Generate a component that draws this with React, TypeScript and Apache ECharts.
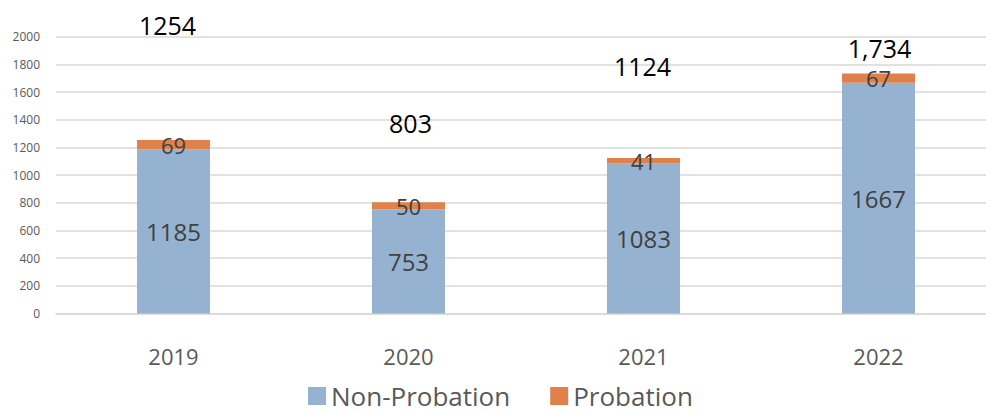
import React, { useEffect, useRef } from "react";
import * as echarts from "echarts";

const years = ["2019", "2020", "2021", "2022"];
const nonProbation = [1185, 753, 1083, 1667];
const probation = [69, 50, 41, 67];
const totalLabels = ["1254", "803", "1124", "1,734"];
const yTicks = { min: 0, max: 2000, interval: 200 };
// label nudges (dx, dy) for the hand-placed total boxes
const totalOffsets: [number, number][] = [
  [-6, -115],
  [2, -79],
  [-1, -92],
  [1, -26],
];

const FONT = "'Open Sans', sans-serif";

export default function App() {
  const ref = useRef<HTMLDivElement>(null);
  useEffect(() => {
    if (!ref.current) return;
    const chart = echarts.init(ref.current, undefined, { renderer: "svg" });
    const totals = nonProbation.map((v, i) => v + probation[i]);
    chart.setOption({
      animation: false,
      textStyle: { fontFamily: FONT },
      grid: {
        left: 56,
        top: 36.7,
        width: 940,
        height: 276.8,
        containLabel: false,
        outerBoundsMode: "none",
      },
      legend: {
        data: ["Non-Probation", "Probation"],
        bottom: 4,
        left: 308,
        padding: 0,
        itemWidth: 18,
        itemHeight: 18,
        itemGap: 40,
        icon: "rect",
        textStyle: { fontSize: 26, lineHeight: 26, color: "#595959", fontFamily: FONT },
      },
      xAxis: {
        type: "category",
        data: years,
        axisLine: { show: true, lineStyle: { color: "#d9d9d9", width: 1.5 } },
        axisTick: { show: false },
        axisLabel: { color: "#595959", fontSize: 22, margin: 31, fontFamily: FONT },
      },
      yAxis: {
        type: "value",
        min: yTicks.min,
        max: yTicks.max,
        interval: yTicks.interval,
        axisLine: { show: false },
        axisTick: { show: false },
        axisLabel: {
          color: "#595959",
          fontSize: 12,
          margin: 16,
          fontFamily: FONT,
          formatter: (v: number) => String(v),
        },
        splitLine: { lineStyle: { color: "#d9d9d9", width: 1.5 } },
      },
      series: [
        {
          name: "Non-Probation",
          type: "bar",
          stack: "total",
          barWidth: 73,
          data: nonProbation,
          itemStyle: { color: "#95B3D1" },
          label: {
            show: true,
            position: "inside",
            color: "#404040",
            fontSize: 24,
            fontFamily: FONT,
          },
        },
        {
          name: "Probation",
          type: "bar",
          stack: "total",
          barWidth: 73,
          data: probation,
          itemStyle: { color: "#E0804A" },
          label: {
            show: true,
            position: "inside",
            color: "#404040",
            fontSize: 22,
            lineHeight: 22,
            fontFamily: FONT,
          },
        },
        {
          name: "Total",
          type: "bar",
          stack: "total",
          barWidth: 73,
          data: totals.map((t, i) => ({
            value: 0,
            label: { offset: totalOffsets[i] },
          })),
          itemStyle: { color: "transparent" },
          label: {
            show: true,
            position: "inside",
            color: "#000000",
            fontSize: 25,
            lineHeight: 22,
            fontFamily: FONT,
            formatter: (p: any) => totalLabels[p.dataIndex],
          },
          tooltip: { show: false },
        },
      ],
    });
    return () => chart.dispose();
  }, []);
  return (
    <div
      ref={ref}
      style={{ position: "absolute", left: 0, top: 0, width: 986, height: 413, background: "#fff" }}
    />
  );
}
